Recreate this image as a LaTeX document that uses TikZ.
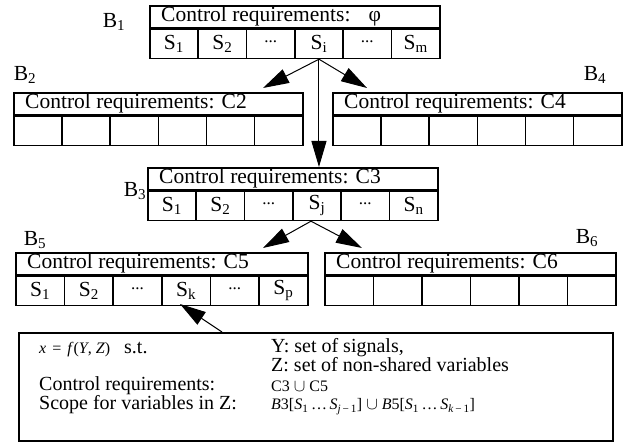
\documentclass[tikz,border=0pt]{standalone}
\usepackage{fontspec}
\setmainfont{Liberation Serif}
\usetikzlibrary{arrows.meta,calc}

% One block: a header row with a caption and a row of six cells below it.
% #1 name, #2 left x, #3 top y, #4 total width, #5 caption, #6 six cell texts
\newcommand{\drawblock}[6]{%
  \pgfmathsetmacro{\cw}{#4/6}%
  \node[hdr, minimum width=#4pt] (#1h) at (#2,#3) {};
  \node[hdrtext] (#1t) at ([xshift=12pt]#1h.west) {#5};
  \foreach \c [count=\i from 0] in {#6} {
    \node[cellbox, minimum width=\cw pt] (#1c\i) at ($(#1h.south west)+(\i*\cw,0)$) {\c};
  }%
}
\newcommand{\dotsmid}{\raisebox{5pt}{\fontsize{17}{17}\selectfont...}}
\newcommand{\sep}{\hspace{4pt}}

\begin{document}
\begin{tikzpicture}[x=1pt,y=-1pt,
  every node/.style={font=\fontsize{21.5}{24}\selectfont},
  hdr/.style={draw, line width=1.6pt, anchor=north west, minimum height=22pt, inner sep=0pt},
  cellbox/.style={draw, line width=1.6pt, anchor=north west, minimum height=29pt, inner sep=0pt},
  hdrtext/.style={anchor=west, inner sep=0pt},
  lbl/.style={inner sep=0pt},
  txt/.style={anchor=base west, inner sep=0pt, font=\fontsize{20}{22}\selectfont},
  small/.style={font=\fontsize{16}{17}\selectfont},
  arr/.style={line width=1pt, -{Triangle[length=26pt,width=15pt]}}
]
\useasboundingbox (0,0) rectangle (627,443);

% blocks
\drawblock{B1}{149}{5}{290}{Control requirements:\hspace{18pt}φ}%
  {S\textsubscript{1},S\textsubscript{2},\dotsmid,S\textsubscript{i},\dotsmid,S\textsubscript{m}}
\drawblock{B2}{13}{92}{289}{Control requirements: C2}{{},{},{},{},{},{}}
\drawblock{B4}{332}{92}{289}{Control requirements: C4}{{},{},{},{},{},{}}
\drawblock{B3}{147}{167}{290}{Control requirements: C3}%
  {S\textsubscript{1},S\textsubscript{2},\dotsmid,S\textsubscript{j},\dotsmid,S\textsubscript{n}}
\drawblock{B5}{15}{252}{292}{Control requirements: C5}%
  {S\textsubscript{1},S\textsubscript{2},\dotsmid,S\textsubscript{k},\dotsmid,S\textsubscript{p}}
\drawblock{B6}{324}{252}{291}{Control requirements: C6}{{},{},{},{},{},{}}

% block labels
\node[lbl] (L1) at (114,22) {B\textsubscript{1}};
\node[lbl] (L2) at (25,75) {B\textsubscript{2}};
\node[lbl] (L4) at (595,75) {B\textsubscript{4}};
\node[lbl] (L3) at (135,191) {B\textsubscript{3}};
\node[lbl] (L5) at (35,240) {B\textsubscript{5}};
\node[lbl] (L6) at (587,238) {B\textsubscript{6}};

% note box
\node[draw, line width=1.6pt, anchor=north west, minimum width=594pt, minimum height=108pt, inner sep=0pt] (note) at (18,332) {};
\node[txt, small] (eqx) at (39,354) {\textit{x}\hspace{6pt}=\hspace{6pt}\textit{f}(\textit{Y}, \textit{Z})};
\node[txt] (st) at (124,354) {s.t.};
\node[txt] (ysig) at (271,352.5) {Y: set of signals,};
\node[txt] (zvar) at (271,372) {Z: set of non-shared variables};
\node[txt] (creq) at (39,391) {Control requirements:};
\node[txt, small] (cunion) at (271,392) {C3\sep$\cup$\sep C5};
\node[txt] (scope) at (39,410) {Scope for variables in Z:};
\node[txt, small] (zscope) at (271,410) {\textit{B}3[\textit{S}\textsubscript{1}\,\ldots\,\textit{S}\textsubscript{\textit{j}\,−\,1}]\sep$\cup$\sep\textit{B}5[\textit{S}\textsubscript{1}\,\ldots\,\textit{S}\textsubscript{\textit{k}\,−\,1}]};

% arrow end points
\coordinate (a12) at (263,88);
\coordinate (a14) at (367,88);
\coordinate (a35) at (263,248);
\coordinate (a36) at (362,248);
\coordinate (s3) at ([xshift=-6pt]B3c3.south);
\coordinate (tk) at (180,304);
\coordinate (sn) at (222,332);

% connectors
\draw[arr] (B1c3.south) -- (a12);
\draw[arr] (B1c3.south) -- (a14);
\draw[arr] (B1c3.south) -- (B1c3.south |- B3h.north);
\draw[arr] (s3) -- (a35);
\draw[arr] (s3) -- (a36);
\draw[arr] (sn) -- (tk);
\end{tikzpicture}
\end{document}
